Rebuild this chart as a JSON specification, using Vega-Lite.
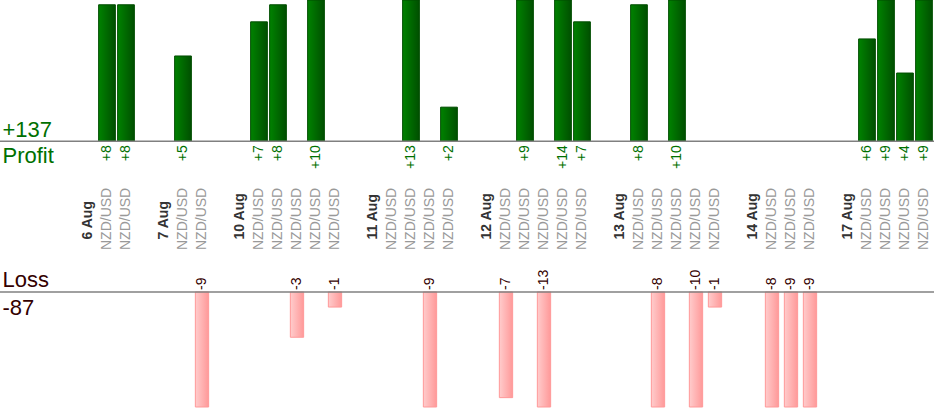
{
  "$schema": "https://vega.github.io/schema/vega-lite/v6.json",
  "description": "NZD/USD trades, profit and loss per trade, 6 to 17 Aug",
  "width": 934,
  "height": 407,
  "autosize": "none",
  "padding": {"left": 0, "top": 0, "right": 0, "bottom": 13},
  "config": {"view": {"stroke": null}, "text": {"font": "Liberation Sans"}},
  "datasets": {
    "trades": [
      {"id": "6 Aug 1", "pair": "NZD/USD", "pnl": 8},
      {"id": "6 Aug 2", "pair": "NZD/USD", "pnl": 8},
      {"id": "7 Aug 1", "pair": "NZD/USD", "pnl": 5},
      {"id": "7 Aug 2", "pair": "NZD/USD", "pnl": -9},
      {"id": "10 Aug 1", "pair": "NZD/USD", "pnl": 7},
      {"id": "10 Aug 2", "pair": "NZD/USD", "pnl": 8},
      {"id": "10 Aug 3", "pair": "NZD/USD", "pnl": -3},
      {"id": "10 Aug 4", "pair": "NZD/USD", "pnl": 10},
      {"id": "10 Aug 5", "pair": "NZD/USD", "pnl": -1},
      {"id": "11 Aug 1", "pair": "NZD/USD", "pnl": 0},
      {"id": "11 Aug 2", "pair": "NZD/USD", "pnl": 13},
      {"id": "11 Aug 3", "pair": "NZD/USD", "pnl": -9},
      {"id": "11 Aug 4", "pair": "NZD/USD", "pnl": 2},
      {"id": "12 Aug 1", "pair": "NZD/USD", "pnl": -7},
      {"id": "12 Aug 2", "pair": "NZD/USD", "pnl": 9},
      {"id": "12 Aug 3", "pair": "NZD/USD", "pnl": -13},
      {"id": "12 Aug 4", "pair": "NZD/USD", "pnl": 14},
      {"id": "12 Aug 5", "pair": "NZD/USD", "pnl": 7},
      {"id": "13 Aug 1", "pair": "NZD/USD", "pnl": 8},
      {"id": "13 Aug 2", "pair": "NZD/USD", "pnl": -8},
      {"id": "13 Aug 3", "pair": "NZD/USD", "pnl": 10},
      {"id": "13 Aug 4", "pair": "NZD/USD", "pnl": -10},
      {"id": "13 Aug 5", "pair": "NZD/USD", "pnl": -1},
      {"id": "14 Aug 1", "pair": "NZD/USD", "pnl": -8},
      {"id": "14 Aug 2", "pair": "NZD/USD", "pnl": -9},
      {"id": "14 Aug 3", "pair": "NZD/USD", "pnl": -9},
      {"id": "17 Aug 1", "pair": "NZD/USD", "pnl": 6},
      {"id": "17 Aug 2", "pair": "NZD/USD", "pnl": 9},
      {"id": "17 Aug 3", "pair": "NZD/USD", "pnl": 4},
      {"id": "17 Aug 4", "pair": "NZD/USD", "pnl": 9}
    ],
    "days": [
      {"id": "6 Aug"}, {"id": "7 Aug"}, {"id": "10 Aug"}, {"id": "11 Aug"},
      {"id": "12 Aug"}, {"id": "13 Aug"}, {"id": "14 Aug"}, {"id": "17 Aug"}
    ],
    "profitTotals": [
      {"label": "+137", "row": "value"},
      {"label": "Profit", "row": "name"}
    ],
    "lossTotals": [
      {"label": "Loss", "row": "name"},
      {"label": "-87", "row": "value"}
    ]
  },
  "layer": [
    {
      "layer": [
        {
          "data": {"name": "trades"},
          "transform": [{"filter": "datum.pnl > 0"}],
          "mark": {
            "type": "bar",
            "width": {"band": 0.88},
            "stroke": "#004d00",
            "strokeWidth": 1,
            "color": {
              "gradient": "linear", "x1": 0, "y1": 0, "x2": 1, "y2": 0,
              "stops": [{"offset": 0, "color": "#008200"}, {"offset": 1, "color": "#004f00"}]
            }
          },
          "encoding": {
            "x": {"field": "id", "type": "nominal", "axis": null,
              "scale": {"type": "band", "paddingInner": 0, "paddingOuter": 0.079, "align": 0.833,
                "domain": ["g0","g1","g2","g3","6 Aug","6 Aug 1","6 Aug 2","g4","7 Aug","7 Aug 1","7 Aug 2","g5","10 Aug","10 Aug 1","10 Aug 2","10 Aug 3","10 Aug 4","10 Aug 5","g6","11 Aug","11 Aug 1","11 Aug 2","11 Aug 3","11 Aug 4","g7","12 Aug","12 Aug 1","12 Aug 2","12 Aug 3","12 Aug 4","12 Aug 5","g8","13 Aug","13 Aug 1","13 Aug 2","13 Aug 3","13 Aug 4","13 Aug 5","g9","14 Aug","14 Aug 1","14 Aug 2","14 Aug 3","g10","17 Aug","17 Aug 1","17 Aug 2","17 Aug 3","17 Aug 4"]}},
            "y": {"field": "pnl", "type": "quantitative", "axis": null,
              "scale": {"domain": [-15.57, 8.28], "nice": false, "zero": false, "clamp": true}},
            "y2": {"datum": 0}
          }
        },
        {
          "data": {"values": [{}]},
          "mark": {"type": "rule", "color": "#808080", "strokeWidth": 1.5},
          "encoding": {
            "y": {"datum": 0, "type": "quantitative", "axis": null,
              "scale": {"domain": [-15.57, 8.28], "nice": false, "zero": false, "clamp": true}}
          }
        },
        {
          "data": {"name": "trades"},
          "transform": [{"filter": "datum.pnl > 0"}],
          "mark": {"type": "text", "angle": 270, "align": "right", "baseline": "middle", "dx": -4, "fontSize": 14, "color": "#007000"},
          "encoding": {
            "x": {"field": "id", "type": "nominal", "axis": null,
              "scale": {"type": "band", "paddingInner": 0, "paddingOuter": 0.079, "align": 0.833,
                "domain": ["g0","g1","g2","g3","6 Aug","6 Aug 1","6 Aug 2","g4","7 Aug","7 Aug 1","7 Aug 2","g5","10 Aug","10 Aug 1","10 Aug 2","10 Aug 3","10 Aug 4","10 Aug 5","g6","11 Aug","11 Aug 1","11 Aug 2","11 Aug 3","11 Aug 4","g7","12 Aug","12 Aug 1","12 Aug 2","12 Aug 3","12 Aug 4","12 Aug 5","g8","13 Aug","13 Aug 1","13 Aug 2","13 Aug 3","13 Aug 4","13 Aug 5","g9","14 Aug","14 Aug 1","14 Aug 2","14 Aug 3","g10","17 Aug","17 Aug 1","17 Aug 2","17 Aug 3","17 Aug 4"]}},
            "y": {"datum": 0, "type": "quantitative", "axis": null,
              "scale": {"domain": [-15.57, 8.28], "nice": false, "zero": false, "clamp": true}},
            "text": {"field": "pnl", "type": "quantitative", "format": "+d"}
          }
        },
        {
          "data": {"name": "trades"},
          "mark": {"type": "text", "angle": 270, "align": "left", "baseline": "middle", "fontSize": 14, "color": "#999999"},
          "encoding": {
            "x": {"field": "id", "type": "nominal", "axis": null,
              "scale": {"type": "band", "paddingInner": 0, "paddingOuter": 0.079, "align": 0.833,
                "domain": ["g0","g1","g2","g3","6 Aug","6 Aug 1","6 Aug 2","g4","7 Aug","7 Aug 1","7 Aug 2","g5","10 Aug","10 Aug 1","10 Aug 2","10 Aug 3","10 Aug 4","10 Aug 5","g6","11 Aug","11 Aug 1","11 Aug 2","11 Aug 3","11 Aug 4","g7","12 Aug","12 Aug 1","12 Aug 2","12 Aug 3","12 Aug 4","12 Aug 5","g8","13 Aug","13 Aug 1","13 Aug 2","13 Aug 3","13 Aug 4","13 Aug 5","g9","14 Aug","14 Aug 1","14 Aug 2","14 Aug 3","g10","17 Aug","17 Aug 1","17 Aug 2","17 Aug 3","17 Aug 4"]}},
            "y": {"datum": -6.37, "type": "quantitative", "axis": null,
              "scale": {"domain": [-15.57, 8.28], "nice": false, "zero": false, "clamp": true}},
            "text": {"field": "pair"}
          }
        },
        {
          "data": {"name": "days"},
          "mark": {"type": "text", "angle": 270, "align": "left", "baseline": "middle", "fontSize": 14, "fontWeight": "bold", "color": "#333333"},
          "encoding": {
            "x": {"field": "id", "type": "nominal", "axis": null,
              "scale": {"type": "band", "paddingInner": 0, "paddingOuter": 0.079, "align": 0.833,
                "domain": ["g0","g1","g2","g3","6 Aug","6 Aug 1","6 Aug 2","g4","7 Aug","7 Aug 1","7 Aug 2","g5","10 Aug","10 Aug 1","10 Aug 2","10 Aug 3","10 Aug 4","10 Aug 5","g6","11 Aug","11 Aug 1","11 Aug 2","11 Aug 3","11 Aug 4","g7","12 Aug","12 Aug 1","12 Aug 2","12 Aug 3","12 Aug 4","12 Aug 5","g8","13 Aug","13 Aug 1","13 Aug 2","13 Aug 3","13 Aug 4","13 Aug 5","g9","14 Aug","14 Aug 1","14 Aug 2","14 Aug 3","g10","17 Aug","17 Aug 1","17 Aug 2","17 Aug 3","17 Aug 4"]}},
            "y": {"datum": -5.75, "type": "quantitative", "axis": null,
              "scale": {"domain": [-15.57, 8.28], "nice": false, "zero": false, "clamp": true}},
            "text": {"field": "id"}
          }
        },
        {
          "data": {"name": "profitTotals"},
          "mark": {"type": "text", "align": "left", "baseline": "alphabetic", "fontSize": 22, "color": "#007000",
            "dy": {"expr": "datum.row === 'value' ? -4 : 22"}},
          "encoding": {
            "x": {"datum": "g0", "type": "nominal", "bandPosition": 0, "axis": null,
              "scale": {"type": "band", "paddingInner": 0, "paddingOuter": 0.079, "align": 0.833,
                "domain": ["g0","g1","g2","g3","6 Aug","6 Aug 1","6 Aug 2","g4","7 Aug","7 Aug 1","7 Aug 2","g5","10 Aug","10 Aug 1","10 Aug 2","10 Aug 3","10 Aug 4","10 Aug 5","g6","11 Aug","11 Aug 1","11 Aug 2","11 Aug 3","11 Aug 4","g7","12 Aug","12 Aug 1","12 Aug 2","12 Aug 3","12 Aug 4","12 Aug 5","g8","13 Aug","13 Aug 1","13 Aug 2","13 Aug 3","13 Aug 4","13 Aug 5","g9","14 Aug","14 Aug 1","14 Aug 2","14 Aug 3","g10","17 Aug","17 Aug 1","17 Aug 2","17 Aug 3","17 Aug 4"]}},
            "y": {"datum": 0, "type": "quantitative", "axis": null,
              "scale": {"domain": [-15.57, 8.28], "nice": false, "zero": false, "clamp": true}},
            "text": {"field": "label"}
          }
        }
      ]
    },
    {
      "layer": [
        {
          "data": {"name": "trades"},
          "transform": [{"filter": "datum.pnl < 0"}],
          "mark": {
            "type": "bar",
            "width": {"band": 0.7},
            "stroke": "#ff9999",
            "strokeWidth": 1,
            "color": {
              "gradient": "linear", "x1": 0, "y1": 0, "x2": 1, "y2": 0,
              "stops": [{"offset": 0, "color": "#ffcccc"}, {"offset": 1, "color": "#ff9999"}]
            }
          },
          "encoding": {
            "x": {"field": "id", "type": "nominal", "axis": null,
              "scale": {"type": "band", "paddingInner": 0, "paddingOuter": 0.079, "align": 0.833,
                "domain": ["g0","g1","g2","g3","6 Aug","6 Aug 1","6 Aug 2","g4","7 Aug","7 Aug 1","7 Aug 2","g5","10 Aug","10 Aug 1","10 Aug 2","10 Aug 3","10 Aug 4","10 Aug 5","g6","11 Aug","11 Aug 1","11 Aug 2","11 Aug 3","11 Aug 4","g7","12 Aug","12 Aug 1","12 Aug 2","12 Aug 3","12 Aug 4","12 Aug 5","g8","13 Aug","13 Aug 1","13 Aug 2","13 Aug 3","13 Aug 4","13 Aug 5","g9","14 Aug","14 Aug 1","14 Aug 2","14 Aug 3","g10","17 Aug","17 Aug 1","17 Aug 2","17 Aug 3","17 Aug 4"]}},
            "y": {"field": "pnl", "type": "quantitative", "axis": null,
              "scale": {"domain": [-7.62, 19.34], "nice": false, "zero": false, "clamp": true}},
            "y2": {"datum": 0}
          }
        },
        {
          "data": {"values": [{}]},
          "mark": {"type": "rule", "color": "#808080", "strokeWidth": 1.5},
          "encoding": {
            "y": {"datum": 0, "type": "quantitative", "axis": null,
              "scale": {"domain": [-7.62, 19.34], "nice": false, "zero": false, "clamp": true}}
          }
        },
        {
          "data": {"name": "trades"},
          "transform": [{"filter": "datum.pnl < 0"}],
          "mark": {"type": "text", "angle": 270, "align": "left", "baseline": "middle", "dx": 2, "fontSize": 14, "color": "#330000"},
          "encoding": {
            "x": {"field": "id", "type": "nominal", "axis": null,
              "scale": {"type": "band", "paddingInner": 0, "paddingOuter": 0.079, "align": 0.833,
                "domain": ["g0","g1","g2","g3","6 Aug","6 Aug 1","6 Aug 2","g4","7 Aug","7 Aug 1","7 Aug 2","g5","10 Aug","10 Aug 1","10 Aug 2","10 Aug 3","10 Aug 4","10 Aug 5","g6","11 Aug","11 Aug 1","11 Aug 2","11 Aug 3","11 Aug 4","g7","12 Aug","12 Aug 1","12 Aug 2","12 Aug 3","12 Aug 4","12 Aug 5","g8","13 Aug","13 Aug 1","13 Aug 2","13 Aug 3","13 Aug 4","13 Aug 5","g9","14 Aug","14 Aug 1","14 Aug 2","14 Aug 3","g10","17 Aug","17 Aug 1","17 Aug 2","17 Aug 3","17 Aug 4"]}},
            "y": {"datum": 0, "type": "quantitative", "axis": null,
              "scale": {"domain": [-7.62, 19.34], "nice": false, "zero": false, "clamp": true}},
            "text": {"field": "pnl", "type": "nominal"}
          }
        },
        {
          "data": {"name": "lossTotals"},
          "mark": {"type": "text", "align": "left", "baseline": "alphabetic", "fontSize": 22, "color": "#330000",
            "dy": {"expr": "datum.row === 'name' ? -5 : 23"}},
          "encoding": {
            "x": {"datum": "g0", "type": "nominal", "bandPosition": 0, "axis": null,
              "scale": {"type": "band", "paddingInner": 0, "paddingOuter": 0.079, "align": 0.833,
                "domain": ["g0","g1","g2","g3","6 Aug","6 Aug 1","6 Aug 2","g4","7 Aug","7 Aug 1","7 Aug 2","g5","10 Aug","10 Aug 1","10 Aug 2","10 Aug 3","10 Aug 4","10 Aug 5","g6","11 Aug","11 Aug 1","11 Aug 2","11 Aug 3","11 Aug 4","g7","12 Aug","12 Aug 1","12 Aug 2","12 Aug 3","12 Aug 4","12 Aug 5","g8","13 Aug","13 Aug 1","13 Aug 2","13 Aug 3","13 Aug 4","13 Aug 5","g9","14 Aug","14 Aug 1","14 Aug 2","14 Aug 3","g10","17 Aug","17 Aug 1","17 Aug 2","17 Aug 3","17 Aug 4"]}},
            "y": {"datum": 0, "type": "quantitative", "axis": null,
              "scale": {"domain": [-7.62, 19.34], "nice": false, "zero": false, "clamp": true}},
            "text": {"field": "label"}
          }
        }
      ]
    }
  ],
  "resolve": {"scale": {"y": "independent"}}
}
